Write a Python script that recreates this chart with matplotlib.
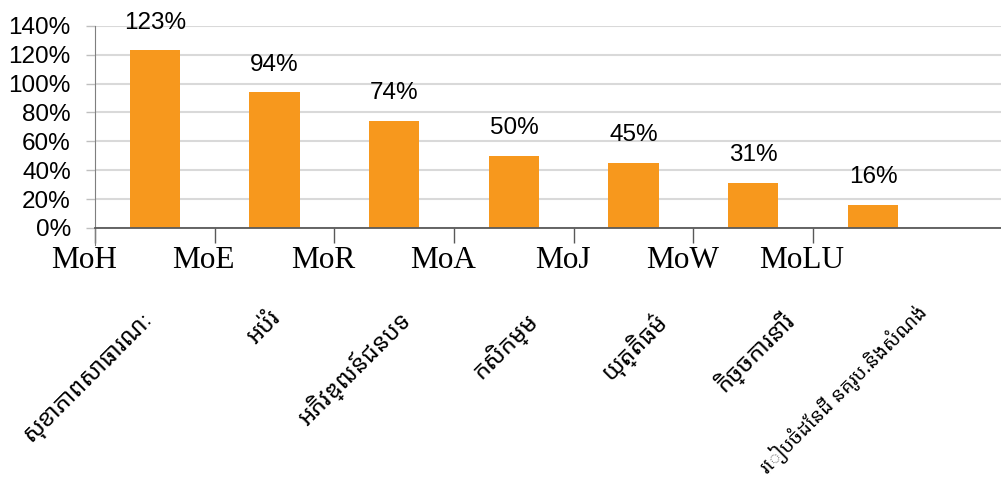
import numpy as np
import matplotlib
matplotlib.use('Agg')
import matplotlib.pyplot as plt
import matplotlib.transforms as mtransforms

# Values
codes = ['MoH', 'MoE', 'MoR', 'MoA', 'MoJ', 'MoW', 'MoLU']
khmer_names = ['សុខាភាពសាធារណៈ', 'អប់រំ', 'អភិវឌ្ឍន៍ជនបទ', 'កសិកម្ម',
               'យុត្តិធម៌', 'កិច្ចការនារី', 'រៀបចំដែនដី នគរូប.និងសំណង់']
values = [123, 94, 74, 50, 45, 31, 16]

bar_color = '#F7981D'

fig = plt.figure(figsize=(10.01, 4.90), dpi=100)
ax = fig.add_axes([0.095, 0.535, 0.905, 0.412])

x = np.arange(len(values))
bars = ax.bar(x, values, width=0.42, color=bar_color, zorder=2)
ax.bar_label(bars, labels=[f'{v}%' for v in values], padding=12,
             fontsize=17.5, family='Liberation Sans')

ax.set_ylim(0, 140)
ax.set_xlim(-0.5, 7.07)
ax.set_yticks(np.arange(0, 141, 20))
ax.set_yticklabels([f'{t}%' for t in range(0, 141, 20)],
                   fontsize=17.5, family='Liberation Sans')
ax.yaxis.grid(True, color='#D9D9D9', linewidth=1.5, zorder=0)
ax.set_axisbelow(True)

# category codes sit on the boundary ticks (drawn by hand, nudged left)
ax.set_xticks(x - 0.5)
ax.set_xticklabels([])
trans = mtransforms.blended_transform_factory(ax.transData, ax.transAxes)
shift = mtransforms.ScaledTranslation(-11 / 100, -18 / 100, fig.dpi_scale_trans)
for i, code in enumerate(codes):
    ax.text(i - 0.5, 0, code, transform=trans + shift, ha='center', va='top',
            fontsize=22.5, family='Liberation Serif')

ax.tick_params(axis='x', length=11, width=1, color='#595959', pad=0)
ax.tick_params(axis='y', length=6.5, width=1, color='#BFBFBF', pad=11)

for side in ['top', 'right']:
    ax.spines[side].set_visible(False)
ax.spines['left'].set_color('#7F7F7F')
ax.spines['bottom'].set_color('#595959')
ax.spines['bottom'].set_linewidth(1.3)
ax.spines['left'].set_bounds(-12, 140)
ax.spines['left'].set_clip_on(False)

# Khmer names, rotated under the codes (the long last one smaller and higher)
for i, name in enumerate(khmer_names):
    long_name = len(name) > 20
    ax.text(i - 0.12 + 0.07 * i + (0.05 if long_name else 0),
            -0.36 if long_name else -0.39, name, transform=trans, rotation=45,
            rotation_mode='anchor', ha='right', va='top',
            fontsize=14 if long_name else 17,
            family=['Noto Sans Khmer', 'Khmer OS', 'DejaVu Sans'])

fig.savefig('out.png', dpi=100, facecolor='white')
